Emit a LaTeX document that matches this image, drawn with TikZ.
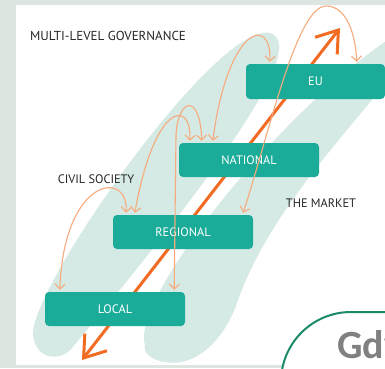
\documentclass[tikz,border=0pt]{standalone}
\usepackage{fontspec}
\setmainfont{PT Sans}
\newfontfamily\gdwfont{Carlito}
\usetikzlibrary{arrows.meta}
\definecolor{bgout}{HTML}{DCE5E0}
\definecolor{ellc}{HTML}{D5EAE5}
\definecolor{boxc}{HTML}{1BAC99}
\definecolor{bigor}{HTML}{F26B22}
\definecolor{arcor}{HTML}{F7AA7C}
\definecolor{gdwgreen}{HTML}{1B8A6B}
\definecolor{gdwgray}{HTML}{808080}
\begin{document}
\begin{tikzpicture}[x=1pt,y=-1pt,
 lvl/.style={fill=boxc, rounded corners=4pt, text=white, minimum width=140pt, minimum height=34pt, inner sep=0pt, font=\fontsize{12.3}{14}\selectfont},
 lbl/.style={text=black!85, font=\fontsize{12.3}{14}\selectfont, inner sep=0pt, anchor=base},
 link/.style={draw=arcor, line width=1.1pt, {Straight Barb[length=5pt,width=10pt]}-{Straight Barb[length=5pt,width=10pt]}},
 bigarrow/.style={draw=bigor, line width=3pt, {Straight Barb[length=20pt,width=28pt]}-{Straight Barb[length=20pt,width=28pt]}}
]
\useasboundingbox (0,0) rectangle (385,368);
\fill[bgout] (0,0) rectangle (385,368);
\fill[white] (16,5) rectangle (385,365);
\begin{scope}
\clip (16,5) rectangle (385,365);
% civil society band
\fill[ellc] (33,335) .. controls (30,290) and (200,45) .. (262,33)
  .. controls (275,30) and (282,40) .. (278,55)
  .. controls (270,110) and (120,290) .. (72,348)
  .. controls (60,362) and (36,360) .. (33,335) -- cycle;
% market band
\fill[ellc] (145,345) .. controls (130,300) and (280,110) .. (395,35)
  -- (410,35) -- (400,65)
  .. controls (350,130) and (270,210) .. (238,300)
  .. controls (225,340) and (195,368) .. (165,362)
  .. controls (150,360) and (143,352) .. (145,345) -- cycle;
\end{scope}
% big double arrow
\coordinate (lo) at (82,360);
\coordinate (hi) at (340,28);
\draw[bigarrow] (lo) -- (hi);
% level boxes
\node[lvl, minimum width=139pt, minimum height=35pt] (eu) at (315.5,81.5) {EU};
\node[lvl] (nat) at (249,160) {NATIONAL};
\node[lvl] (reg) at (183,232) {REGIONAL};
\node[lvl] (loc) at (115,309) {LOCAL};
% labels
\node[lbl, font=\fontsize{13}{15}\selectfont] (mlg) at (108,40) {MULTI-LEVEL GOVERNANCE};
\node[lbl] (cs) at (96,183) {CIVIL SOCIETY};
\node[lbl] (mkt) at (321,207) {THE MARKET};
% arcs
\draw[link] ([xshift=15pt,yshift=2pt]loc.north west) .. controls (64,175) and (130,170) .. ([xshift=13pt,yshift=2pt]reg.north west);
\draw[link] ([xshift=22pt,yshift=2pt]reg.north west) .. controls (155,100) and (192,100) .. ([xshift=11pt,yshift=2pt]nat.north west);
\draw[link] ([xshift=-11pt,yshift=2pt]loc.north east) -- (176,135) .. controls (178,98) and (200,92) .. ([xshift=23pt,yshift=2pt]nat.north west);
\draw[link] ([xshift=34pt,yshift=2pt]nat.north west) .. controls (228,25) and (272,15) .. ([xshift=24pt,yshift=2pt]eu.north west);
\draw[link] ([xshift=-10pt,yshift=2pt]reg.north east) .. controls (270,130) and (297,6) .. (326,6) .. controls (345,6) and (355,30) .. ([xshift=111pt,yshift=2pt]eu.north west);
% Gdw box
\begin{scope}
\clip (0,0) rectangle (385,368);
\filldraw[draw=gdwgreen, fill=white, line width=2pt] (281,400) [rounded corners=70pt] -- (281,312) -- (450,312) [sharp corners] -- (450,400) -- cycle;
\node[anchor=base west, text=gdwgray, font=\gdwfont\bfseries\fontsize{40}{40}\selectfont, inner sep=0pt] (gdw) at (337,358) {Gdw};
\end{scope}
\end{tikzpicture}
\end{document}
